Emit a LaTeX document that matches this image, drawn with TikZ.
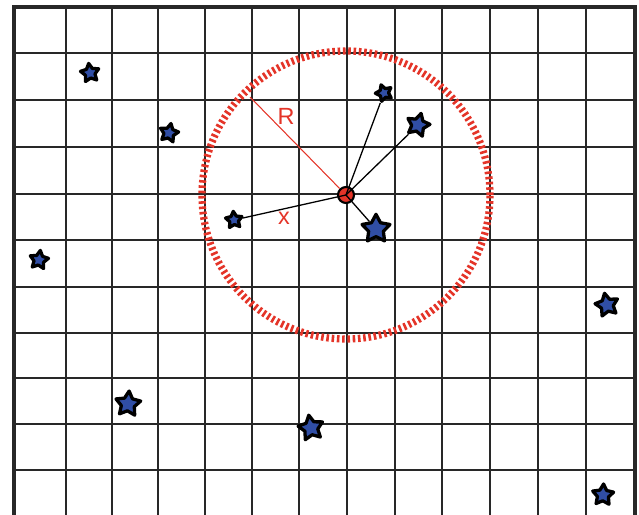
\documentclass[tikz,border=0pt]{standalone}
\usepackage{fontspec}
\setmainfont{Liberation Sans}
\usetikzlibrary{shapes.geometric}
\definecolor{ringred}{RGB}{228,52,40}
\definecolor{starblue}{RGB}{48,78,165}
\definecolor{gridgray}{RGB}{40,40,40}
\begin{document}
\begin{tikzpicture}[x=0.03cm, y=-0.03cm,
  gridline/.style={draw=gridgray, line width=1.3pt},
  frameline/.style={draw=gridgray, line width=2.8pt},
  ring/.style={draw=ringred, line width=6.2pt, dash pattern=on 2.2pt off 2.3pt},
  hubdot/.style={circle, draw=black, fill=ringred, line width=1.8pt, inner sep=0pt, minimum size=4.8mm},
  starnode/.style={star, star points=5, star point ratio=1.9, draw=black, fill=starblue, line width=2.8pt, line join=round, inner sep=0pt, minimum size=#1},
  starnode/.default=5.8mm,
  ray/.style={draw=black, line width=1.1pt},
  lbl/.style={text=ringred, font=\fontsize{20}{22}\selectfont}]
\useasboundingbox (0,0) rectangle (639,515);
% grid
\foreach \gx in {66,112,158,205,252,299,347,395,442,490,538,586}
  \draw[gridline] (\gx,7) -- (\gx,515);
\foreach \gy in {53,100,147,194,240,287,333,378,424,470}
  \draw[gridline] (14,\gy) -- (635,\gy);
\draw[frameline] (14,515) -- (14,7) -- (635,7) -- (635,515);
% search radius
\node[hubdot] (hub) at (346,195) {};
\draw[ring] (hub.center) circle[radius=4.32cm];
\coordinate (rimpt) at (250,97);
% stars
\node[starnode, rotate=8] (star1) at (90,73) {};
\node[starnode, rotate=-12] (star2) at (169,133) {};
\node[starnode=5.2mm, rotate=20] (star3) at (384,93) {};
\node[starnode=7.2mm, rotate=-15] (star4) at (418,125) {};
\node[starnode=5.2mm, rotate=5] (star5) at (234,220) {};
\node[starnode=8.8mm, rotate=0] (star6) at (376,229) {};
\node[starnode, rotate=-8] (star7) at (39,260) {};
\node[starnode=7.2mm, rotate=12] (star8) at (607,305) {};
\node[starnode=7.8mm, rotate=-5] (star9) at (128,404) {};
\node[starnode=7.8mm, rotate=10] (star10) at (311,428) {};
\node[starnode=6.6mm, rotate=-3] (star11) at (603,495) {};
% neighbours
\draw[ray] (hub.center) -- (star3);
\draw[ray] (hub.center) -- (star4);
\draw[ray] (hub.center) -- (star5);
\draw[ray] (hub.center) -- (star6);
\draw[draw=ringred, line width=0.9pt] (hub) -- (rimpt);
\node[lbl] (rlabel) at (286,116) {R};
\node[lbl] (xlabel) at (284,218) {x};
\end{tikzpicture}
\end{document}
